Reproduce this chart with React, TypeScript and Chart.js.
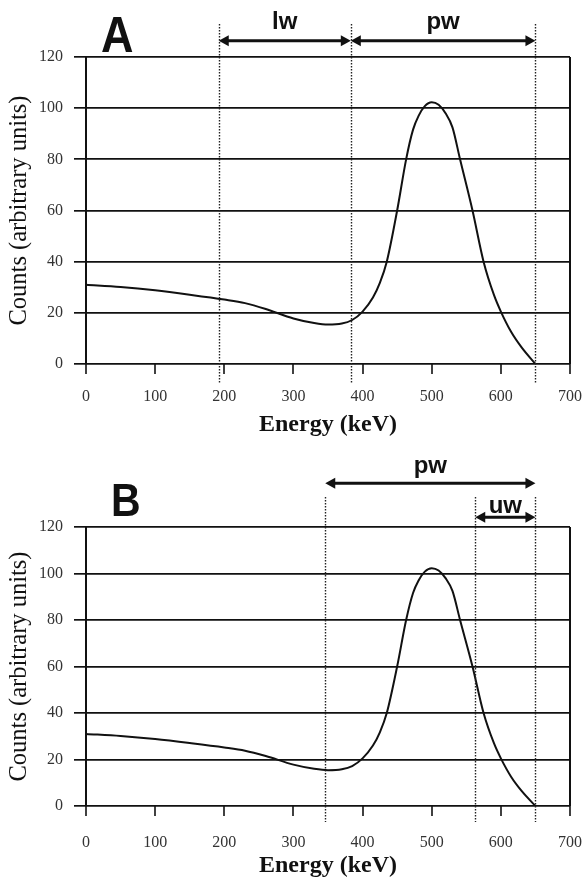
import React, { useEffect, useRef } from "react";
import { Chart, registerables } from "chart.js";

Chart.register(...registerables);

// ---- data ----
const energies = [0, 50, 100, 150, 200, 230, 260, 300, 330, 350, 370, 385, 400, 415, 425, 435, 450, 463, 473, 481, 490, 500, 510, 520, 530, 541, 559, 575, 590, 600, 615, 630, 650];
const counts = [31, 30.1, 28.8, 27.1, 25.2, 23.8, 21.5, 17.8, 16, 15.4, 15.8, 17.2, 20.5, 26, 31.7, 40, 60, 80, 91.6, 97, 100.8, 102.3, 101.3, 98, 92.5, 80, 60, 40, 27, 20.5, 12.5, 6.5, 0];
const xTicks = [0, 100, 200, 300, 400, 500, 600, 700];
const yTicks = [0, 20, 40, 60, 80, 100, 120];

// window boundaries (keV)
const windowLinesA = [192, 383, 650];
const arrowLabelsA = ["lw", "pw"];
const arrowStartsA = [192, 383];
const arrowEndsA = [383, 650];

const windowLinesB = [346, 563, 650];
const arrowLabelsB = ["pw", "uw"];
const arrowStartsB = [346, 563];
const arrowEndsB = [650, 650];

const xTitle = "Energy (keV)";
const yTitle = "Counts (arbitrary units)";

type Panel = {
  letter: string;
  letterSize: number;
  letterX: number;
  letterBase: number;
  lines: number[];
  labels: string[];
  starts: number[];
  ends: number[];
  arrowYs: number[];
  labelBases: number[];
  dotTop: number;
  dotBottom: number;
  padTop: number;
  xHeight: number;
  xTickPad: number;
  xTitlePad: number;
};

const panels: Panel[] = [
  {
    letter: "A", letterSize: 45, letterX: 101, letterBase: 51.5,
    lines: windowLinesA, labels: arrowLabelsA, starts: arrowStartsA, ends: arrowEndsA,
    arrowYs: [40.7, 40.7], labelBases: [28.5, 28.5],
    dotTop: 24, dotBottom: 383,
    padTop: 57, xHeight: 79, xTickPad: 13, xTitlePad: 4,
  },
  {
    letter: "B", letterSize: 41, letterX: 111, letterBase: 72.7,
    lines: windowLinesB, labels: arrowLabelsB, starts: arrowStartsB, ends: arrowEndsB,
    arrowYs: [40.3, 74.3], labelBases: [30, 69.5],
    dotTop: 54, dotBottom: 379,
    padTop: 84, xHeight: 80, xTickPad: 17, xTitlePad: 6,
  },
];

function drawArrow(ctx: CanvasRenderingContext2D, x1: number, x2: number, y: number) {
  const head = 10;
  const half = 5.5;
  ctx.save();
  ctx.strokeStyle = "#111";
  ctx.fillStyle = "#111";
  ctx.lineWidth = 3;
  ctx.setLineDash([]);
  ctx.beginPath();
  ctx.moveTo(x1 + head - 1, y);
  ctx.lineTo(x2 - head + 1, y);
  ctx.stroke();
  ctx.beginPath();
  ctx.moveTo(x1, y);
  ctx.lineTo(x1 + head, y - half);
  ctx.lineTo(x1 + head, y + half);
  ctx.closePath();
  ctx.fill();
  ctx.beginPath();
  ctx.moveTo(x2, y);
  ctx.lineTo(x2 - head, y - half);
  ctx.lineTo(x2 - head, y + half);
  ctx.closePath();
  ctx.fill();
  ctx.restore();
}

function makeOverlay(p: Panel) {
  return {
    id: "overlay" + p.letter,
    afterDraw(chart: any) {
      const ctx: CanvasRenderingContext2D = chart.ctx;
      const x = chart.scales.x;
      ctx.save();
      // dotted window boundaries
      ctx.strokeStyle = "#222";
      ctx.lineWidth = 1.4;
      ctx.setLineDash([1.5, 1.5]);
      p.lines.forEach((v) => {
        const px = Math.round(x.getPixelForValue(v)) + 0.5;
        ctx.beginPath();
        ctx.moveTo(px, p.dotTop);
        ctx.lineTo(px, p.dotBottom);
        ctx.stroke();
      });
      ctx.setLineDash([]);
      // arrows + labels
      p.labels.forEach((lab, i) => {
        const x1 = x.getPixelForValue(p.starts[i]);
        const x2 = x.getPixelForValue(p.ends[i]);
        drawArrow(ctx, x1, x2, p.arrowYs[i]);
        ctx.fillStyle = "#111";
        ctx.font = "bold 24px 'Liberation Sans', Arial, sans-serif";
        ctx.textAlign = "center";
        ctx.textBaseline = "alphabetic";
        ctx.fillText(lab, (x1 + x2) / 2, p.labelBases[i]);
      });
      // panel letter
      ctx.save();
      ctx.translate(p.letterX, p.letterBase);
      ctx.scale(1, 1.13);
      ctx.font = `bold ${p.letterSize}px 'Liberation Sans', Arial, sans-serif`;
      ctx.textAlign = "left";
      ctx.textBaseline = "alphabetic";
      ctx.fillStyle = "#111";
      ctx.fillText(p.letter, 0, 0);
      ctx.restore();
      ctx.restore();
    },
  };
}

function PanelChart({ p }: { p: Panel }) {
  const ref = useRef<HTMLCanvasElement | null>(null);
  useEffect(() => {
    if (!ref.current) return;
    const chart = new Chart(ref.current, {
      type: "line",
      data: {
        datasets: [
          {
            data: energies.map((e, i) => ({ x: e, y: counts[i] })),
            borderColor: "#111",
            borderWidth: 2,
            pointRadius: 0,
            cubicInterpolationMode: "monotone",
            fill: false,
          },
        ],
      },
      options: {
        animation: false,
        responsive: false,
        devicePixelRatio: 1,
        layout: { padding: { top: p.padTop, right: 14, left: 0, bottom: 0 } },
        plugins: { legend: { display: false }, tooltip: { enabled: false }, title: { display: false } },
        scales: {
          x: {
            type: "linear",
            min: 0,
            max: 700,
            afterBuildTicks: (s: any) => {
              s.ticks = xTicks.map((v) => ({ value: v }));
            },
            afterFit: (s: any) => {
              s.height = p.xHeight;
              s.paddingLeft = 0;
              s.paddingRight = 0;
            },
            grid: {
              drawOnChartArea: true,
              color: (c: any) => (c.tick && c.tick.value === 700 ? "#111" : "rgba(0,0,0,0)"),
              lineWidth: 2,
              tickLength: 10,
              tickColor: "#111",
              tickWidth: 1.6,
            },
            border: { display: false },
            ticks: {
              autoSkip: false,
              maxRotation: 0,
              padding: p.xTickPad,
              color: "#333",
              font: { family: "'Liberation Serif', 'Times New Roman', serif", size: 16 },
            },
            title: {
              display: true,
              text: xTitle,
              color: "#111",
              font: { family: "'Liberation Serif', 'Times New Roman', serif", size: 24, weight: "bold" },
              padding: { top: 0, bottom: p.xTitlePad },
            },
          },
          y: {
            min: 0,
            max: 120,
            afterBuildTicks: (s: any) => {
              s.ticks = yTicks.map((v) => ({ value: v }));
            },
            afterFit: (s: any) => {
              s.width = 86;
              s.paddingTop = 0;
              s.paddingBottom = 0;
            },
            grid: { color: "#111", lineWidth: 1.7, tickLength: 12 },
            border: { display: true, color: "#111", width: 2 },
            ticks: {
              padding: 11,
              color: "#333",
              font: { family: "'Liberation Serif', 'Times New Roman', serif", size: 16 },
            },
            title: {
              display: true,
              text: yTitle,
              color: "#111",
              font: { family: "'Liberation Serif', 'Times New Roman', serif", size: 24.5 },
              padding: { top: 5, bottom: 0 },
            },
          },
        },
      } as any,
      plugins: [makeOverlay(p)],
    });
    return () => chart.destroy();
  }, [p]);
  return <canvas ref={ref} width={584} height={443} style={{ display: "block", width: 584, height: 443 }} />;
}

export default function App() {
  return (
    <div style={{ position: "absolute", left: 0, top: 0, width: 584, height: 886, background: "#fff" }}>
      {panels.map((p) => (
        <PanelChart key={p.letter} p={p} />
      ))}
    </div>
  );
}
